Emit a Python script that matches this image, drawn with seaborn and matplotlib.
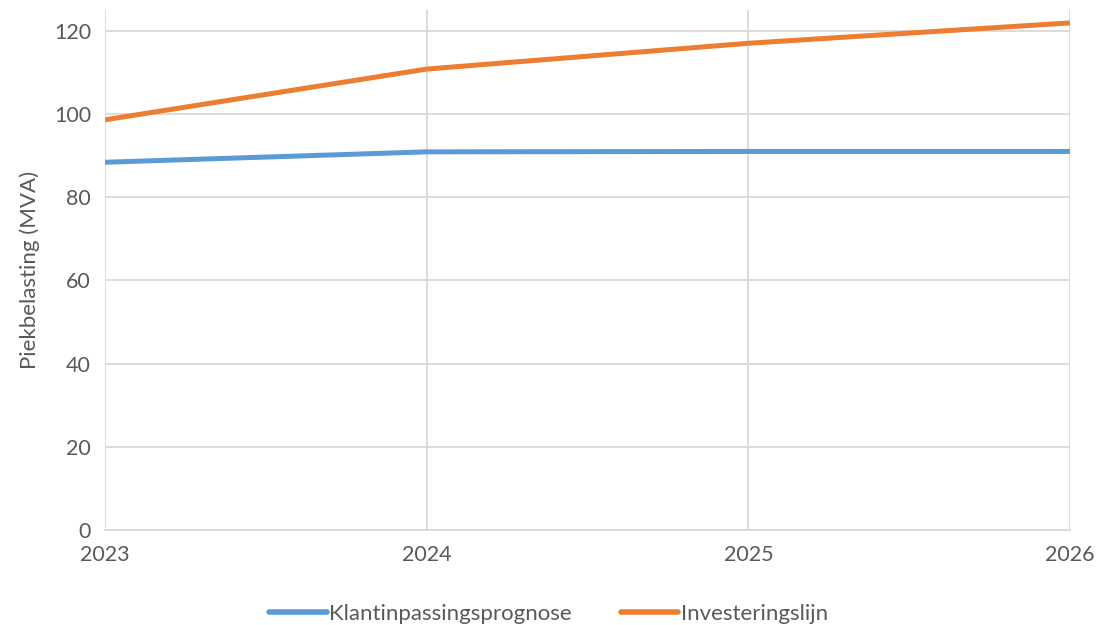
import matplotlib.pyplot as plt
import seaborn as sns
import pandas as pd

years = [2023, 2024, 2025, 2026]
klantinpassing = [88.4, 90.9, 91.0, 91.0]
investeringslijn = [98.6, 110.8, 117.0, 121.9]
series_names = ['Klantinpassingsprognose', 'Investeringslijn']
colors = ['#5B9BD5', '#ED7D31']
yticks = [0, 20, 40, 60, 80, 100, 120]

df = pd.DataFrame({
    'jaar': years * 2,
    'waarde': klantinpassing + investeringslijn,
    'reeks': [series_names[0]] * 4 + [series_names[1]] * 4,
})

sns.set_theme(style='white')
plt.rcParams['font.family'] = ['Lato', 'DejaVu Sans']
text_col = '#595959'

fig = plt.figure(figsize=(10.97, 6.25), dpi=100)
ax = fig.add_axes([0.0957, 0.152, 0.8797, 0.832])

sns.lineplot(data=df, x='jaar', y='waarde', hue='reeks', palette=colors,
             linewidth=3.6, ax=ax, legend=False, solid_capstyle='butt')

ax.set_xlim(2023, 2026)
ax.set_ylim(0, 125)
ax.set_xticks(years)
ax.set_yticks(yticks)
ax.grid(True, color='#D9D9D9', linewidth=1.3)
ax.set_axisbelow(True)
for s in ['top', 'right', 'left']:
    ax.spines[s].set_visible(False)
ax.spines['bottom'].set_color('#D9D9D9')
ax.spines['bottom'].set_linewidth(1.3)

ax.tick_params(axis='both', length=0, labelsize=15.5, colors=text_col)
ax.tick_params(axis='x', pad=11)
ax.tick_params(axis='y', pad=10)
ax.set_xlabel('')
ax.set_ylabel('Piekbelasting (MVA)', fontsize=16, color=text_col, labelpad=10)

handles = [plt.Line2D([], [], color=c, linewidth=4, solid_capstyle='round') for c in colors]
fig.legend(handles, series_names, loc='lower center', bbox_to_anchor=(0.5, -0.03),
           ncol=2, frameon=False, fontsize=16, labelcolor=text_col,
           handlelength=2.6, handletextpad=0.1, columnspacing=2.2)

fig.savefig('out.png', dpi=100)
